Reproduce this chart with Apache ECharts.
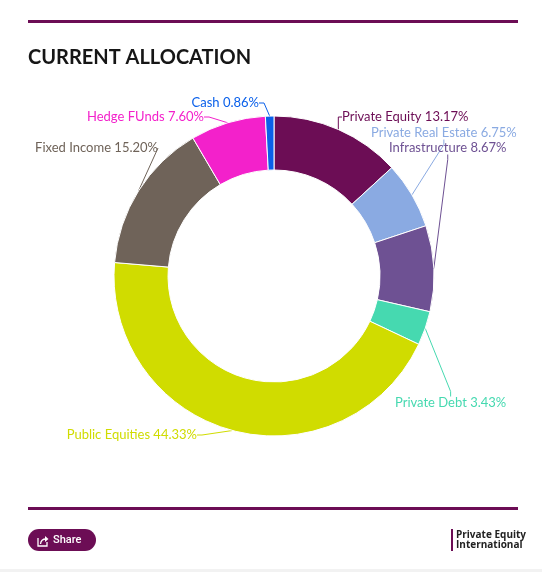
<!DOCTYPE html>
<html>
<head>
<meta charset="utf-8">
<script src="https://cdn.jsdelivr.net/npm/echarts@6/dist/echarts.min.js"></script>
<style>
html,body{margin:0;padding:0;background:#fff;}
#chart{width:542px;height:572px;}
</style>
</head>
<body>
<div id="chart"></div>
<script>
// ---- data ----
var categories = ['Private Equity', 'Private Real Estate', 'Infrastructure', 'Private Debt', 'Public Equities', 'Fixed Income', 'Hedge FUnds', 'Cash'];
var values = [13.17, 6.75, 8.67, 3.43, 44.33, 15.20, 7.60, 0.86];
var colors = ['#6c0d55', '#8aaae2', '#6e5193', '#46d9b0', '#d0dc00', '#6f6359', '#f321cb', '#0a60ea'];

// ---- label placement (layout only) ----
var labelPos = [
  {x: 342, y: 117, align: 'left'},
  {x: 371, y: 133, align: 'left'},
  {x: 389, y: 148, align: 'left'},
  {x: 395, y: 403, align: 'left'},
  {x: 197, y: 435, align: 'right'},
  {x: 158, y: 148, align: 'right'},
  {x: 204, y: 117, align: 'right'},
  {x: 259, y: 103, align: 'right'}
];

var chart = echarts.init(document.getElementById('chart'), null, {renderer: 'canvas'});
var brand = '#6c0d55';

var seriesData = categories.map(function (c, i) {
  return {name: c, value: values[i], itemStyle: {color: colors[i]}};
});

chart.setOption({
  animation: false,
  backgroundColor: '#fff',
  title: {
    text: 'CURRENT ALLOCATION',
    left: 23,
    top: 43,
    textStyle: {fontFamily: 'Lato', fontWeight: 'bold', fontSize: 20, color: '#161616'}
  },
  graphic: [
    {type: 'rect', shape: {x: 28, y: 20, width: 490, height: 3}, style: {fill: brand}},
    {type: 'rect', shape: {x: 28, y: 507, width: 490, height: 3}, style: {fill: brand}},
    {type: 'rect', shape: {x: 28, y: 529, width: 68, height: 22, r: 11}, style: {fill: brand}},
    {type: 'polyline', shape: {points: [[38, 538], [38, 546], [47, 546], [47, 542]]}, style: {stroke: '#fff', lineWidth: 1.3, fill: null}},
    {type: 'bezierCurve', shape: {x1: 40.5, y1: 544, cpx1: 41, cpy1: 539, x2: 46, y2: 539}, style: {stroke: '#fff', lineWidth: 1.3, fill: null}},
    {type: 'polygon', shape: {points: [[45, 536], [48.5, 539], [45, 542]]}, style: {fill: '#fff'}},
    {type: 'text', x: 53, y: 540, style: {text: 'Share', fill: '#fff', font: '500 11px Roboto', textVerticalAlign: 'middle'}},
    {type: 'rect', shape: {x: 451, y: 529, width: 2, height: 22}, style: {fill: brand}},
    {type: 'text', x: 456, y: 535, style: {text: 'Private Equity', fill: '#222', font: 'bold 10px "Open Sans"', textVerticalAlign: 'middle'}},
    {type: 'text', x: 456, y: 545, style: {text: 'International', fill: '#222', font: 'bold 10px "Open Sans"', textVerticalAlign: 'middle'}},
    {type: 'rect', shape: {x: 0, y: 569, width: 542, height: 3}, style: {fill: '#f2f2f2'}}
  ],
  series: [{
    type: 'pie',
    center: [274, 276],
    radius: [106, 160],
    startAngle: 90,
    clockwise: true,
    avoidLabelOverlap: false,
    itemStyle: {borderColor: '#fff', borderWidth: 1},
    label: {
      show: true,
      position: 'outside',
      color: 'inherit',
      fontFamily: 'Lato',
      fontSize: 13,
      formatter: function (p) { return p.name + ' ' + p.value.toFixed(2) + '%'; }
    },
    labelLine: {show: true, length: 8, length2: 5, lineStyle: {width: 1}},
    labelLayout: function (p) {
      var lp = labelPos[p.dataIndex];
      return {x: lp.x, y: lp.y, align: lp.align, verticalAlign: 'middle'};
    },
    emphasis: {disabled: true},
    data: seriesData
  }]
});
</script>
</body>
</html>
